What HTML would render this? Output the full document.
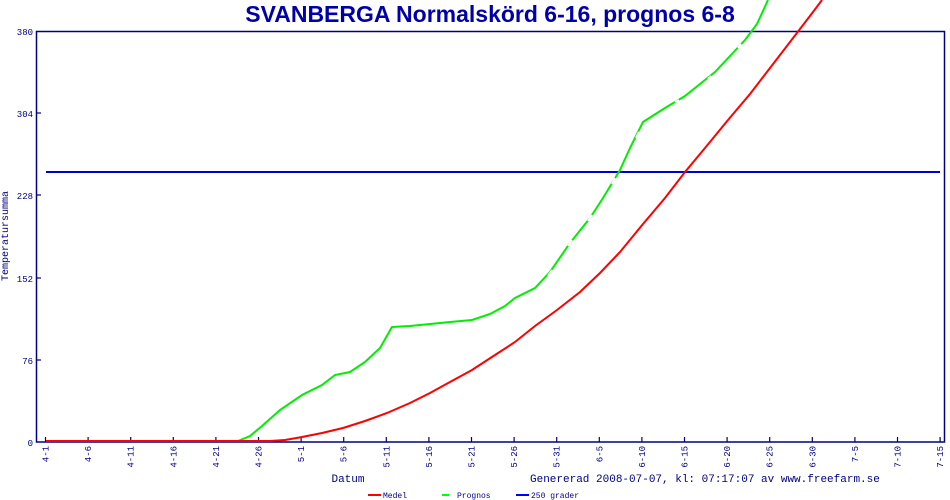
<!DOCTYPE html>
<html><head><meta charset="utf-8"><style>
html,body{margin:0;padding:0;background:#fff;}
svg{display:block;}
</style></head><body>
<svg width="950" height="500" xmlns="http://www.w3.org/2000/svg" font-family="Liberation Mono, monospace">
<rect width="950" height="500" fill="#fff"/>
<text x="490" y="22" text-anchor="middle" font-family="Liberation Sans, sans-serif" font-weight="bold" font-size="23" fill="#0000aa">SVANBERGA Normalskörd 6-16, prognos 6-8</text>
<rect x="36.5" y="31.5" width="908" height="410.5" fill="none" stroke="#000080" stroke-width="1.5"/>
<g fill="#000080" font-size="9" text-anchor="end">
<text x="33" y="35">380</text><text x="33" y="117">304</text><text x="33" y="199">228</text>
<text x="33" y="282">152</text><text x="33" y="364">76</text><text x="33" y="446">0</text>
</g>
<g stroke="#000080" stroke-width="1.2">
<line x1="36" y1="113" x2="41" y2="113"/><line x1="36" y1="195" x2="41" y2="195"/>
<line x1="36" y1="278" x2="41" y2="278"/><line x1="36" y1="360" x2="41" y2="360"/>
</g>
<g id="xt" fill="#000080" font-size="9">
</g>
<text x="8" y="236" transform="rotate(-90 8 236)" text-anchor="middle" font-size="10" fill="#000080">Temperatursumma</text>
<text x="348" y="482" text-anchor="middle" font-size="11" fill="#000080">Datum</text>
<text x="530" y="482" font-size="11" fill="#000080">Genererad 2008-07-07, kl: 07:17:07 av www.freefarm.se</text>
<g font-size="8" fill="#000080">
<line x1="368" y1="495" x2="381" y2="495" stroke="#ff0000" stroke-width="2"/><text x="383" y="498">Medel</text>
<line x1="442" y1="495" x2="449" y2="495" stroke="#00ff00" stroke-width="2"/><text x="457" y="498">Prognos</text>
<line x1="516" y1="495" x2="529" y2="495" stroke="#0000ff" stroke-width="2"/><text x="531" y="498">250 grader</text>
</g>
<line x1="46" y1="172" x2="940" y2="172" stroke="#0000cc" stroke-width="2"/>
<polyline fill="none" stroke="#00ee00" stroke-width="2" points="46,441 238,441 250,436 262,426 280,410 302,395 322,385 335,375 350,372 365,362 380,348 392,327 410,326 430,324 450,322 472,320 490,314 505,306 515,298 535,288 550,272 570,243 590,218 603,198 620,170 630,148 643,122 665,108 685,96 700,84 715,72 730,56 745,40 757,24 768,0"/>
<polyline fill="none" stroke="#ff0000" stroke-width="2" points="46,441 250,441 270,441 285,440 302,437 322,433 343,428 365,421 387,413 410,403 430,393 450,382 472,370 495,355 515,342 535,326 557,310 580,292 600,273 620,252 643,224 665,198 685,172 705,148 728,120 750,94 770,68 790,42 813,12 822,0"/>
<g stroke="#fff" stroke-width="2">
<line x1="548" y1="276" x2="552" y2="270"/><line x1="568" y1="246" x2="572" y2="240"/>
<line x1="588" y1="221" x2="592" y2="215"/><line x1="612" y1="184" x2="615" y2="178"/>
<line x1="636" y1="138" x2="639" y2="132"/><line x1="675" y1="102" x2="679" y2="100"/>
<line x1="708" y1="79" x2="711" y2="76"/><line x1="738" y1="48" x2="741" y2="44"/>
</g>
<script>
var g=document.getElementById('xt');var lab=["4-1","4-6","4-11","4-16","4-21","4-26","5-1","5-6","5-11","5-16","5-21","5-26","5-31","6-5","6-10","6-15","6-20","6-25","6-30","7-5","7-10","7-15"];
var ns="http://www.w3.org/2000/svg";
lab.forEach(function(l,i){var x=45.5+i*42.6;
var ln=document.createElementNS(ns,'line');ln.setAttribute('x1',x);ln.setAttribute('x2',x);ln.setAttribute('y1',437);ln.setAttribute('y2',442);ln.setAttribute('stroke','#000080');ln.setAttribute('stroke-width','1.2');g.appendChild(ln);
var t=document.createElementNS(ns,'text');t.setAttribute('transform','translate('+(x+3)+',446) rotate(-90)');t.setAttribute('text-anchor','end');t.textContent=l;g.appendChild(t);});
</script>
</svg>
</body></html>
